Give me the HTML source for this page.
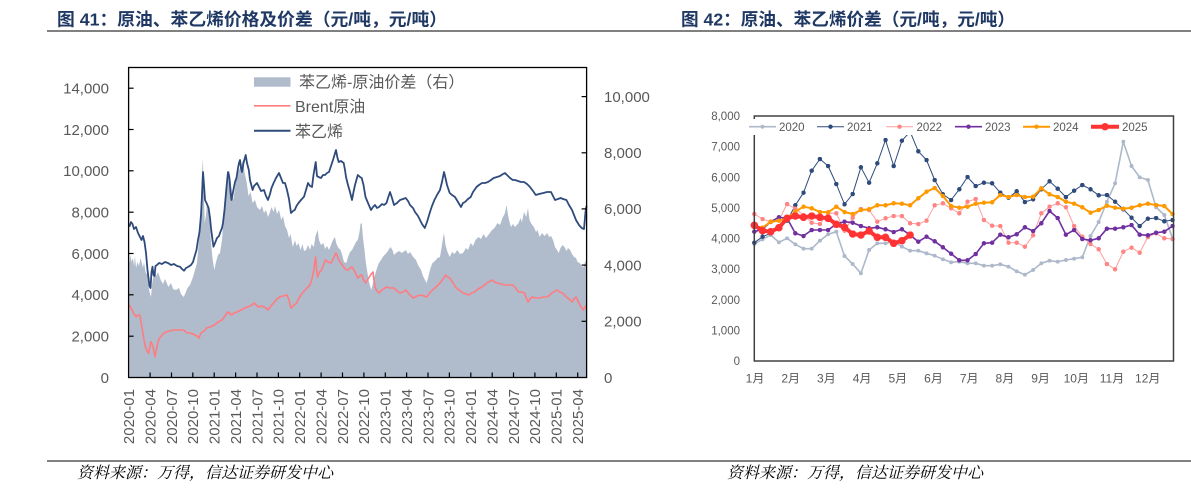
<!DOCTYPE html>
<html><head><meta charset="utf-8">
<style>
html,body{margin:0;padding:0;background:#fff;}
svg{display:block;}
text{font-family:"Liberation Sans","Noto Sans CJK SC",sans-serif;}
.ax{font-size:15px;fill:#595959;}
.ax2{font-size:11.5px;fill:#595959;}
.ttl{font-family:"Liberation Sans","Noto Sans CJK SC",sans-serif;font-weight:bold;font-size:17.5px;fill:#1F3864;}
.src{font-family:"Noto Serif CJK SC","Noto Sans CJK SC",serif;font-style:italic;font-size:16px;fill:#000;}
</style></head>
<body>
<svg width="1191" height="492" viewBox="0 0 1191 492" xmlns="http://www.w3.org/2000/svg">
<defs>
<marker id="m20" viewBox="0 0 10 10" refX="5" refY="5" markerWidth="4" markerHeight="4" markerUnits="userSpaceOnUse"><circle cx="5" cy="5" r="5" fill="#ADB9CA"/></marker>
<marker id="m21" viewBox="0 0 10 10" refX="5" refY="5" markerWidth="4.5" markerHeight="4.5" markerUnits="userSpaceOnUse"><circle cx="5" cy="5" r="5" fill="#2F4B7C"/></marker>
<marker id="m22" viewBox="0 0 10 10" refX="5" refY="5" markerWidth="4.5" markerHeight="4.5" markerUnits="userSpaceOnUse"><circle cx="5" cy="5" r="5" fill="#FF8585"/></marker>
<marker id="m23" viewBox="0 0 10 10" refX="5" refY="5" markerWidth="4.5" markerHeight="4.5" markerUnits="userSpaceOnUse"><circle cx="5" cy="5" r="5" fill="#7030A0"/></marker>
<marker id="m24" viewBox="0 0 10 10" refX="5" refY="5" markerWidth="4.5" markerHeight="4.5" markerUnits="userSpaceOnUse"><circle cx="5" cy="5" r="5" fill="#FF9900"/></marker>
<marker id="m25" viewBox="0 0 10 10" refX="5" refY="5" markerWidth="7.5" markerHeight="7.5" markerUnits="userSpaceOnUse"><circle cx="5" cy="5" r="5" fill="#FF3333"/></marker>
</defs>

<!-- titles -->
<text class="ttl" x="57" y="25.5" textLength="390" lengthAdjust="spacingAndGlyphs">图 41：原油、苯乙烯价格及价差（元/吨，元/吨）</text>
<text class="ttl" x="681" y="25.5" textLength="334" lengthAdjust="spacingAndGlyphs">图 42：原油、苯乙烯价差（元/吨，元/吨）</text>
<line x1="47" y1="31" x2="1191" y2="31" stroke="#000" stroke-width="1"/>

<!-- ============ LEFT CHART ============ -->
<!-- area -->
<polygon fill="#B0BBCC" points="129.4,377.5 129.4,263 130.5,255 131.5,262 133,258 134,266 135,256 136,268 137.5,262 139,266 140.5,258 141.6,262 143,268 144,262 145.5,272 147.3,275 148.5,285 149.5,292 151,297 152,285 153,278 155,270 156.5,276 158,272 160.7,280 163,284 165,279 168.4,287 171,283 173,289 176,290 179,288 181,294 183.7,297 185.5,293 187.5,288 190,285 193,277 195,270 197,263 199,240 200.5,215 201.5,185 202.8,158 203.8,190 204.7,223 206,215 207,203 208.6,210 210,225 211,243 212.5,258 214.3,270 216,262 218,255 220,253 222,240 224,213 225.5,200 226.6,190 228,180 229.6,170 231,185 233.4,200 235,188 236.5,175 239,170 241,166 243,160 244.5,172 246.8,183 248.5,196 250.5,192 252.6,203 255,200 257,207 260,210 262,206 264,213 266,210 268,217 270,212 271.5,207 273.6,212 275,206 277,214 279,210 281.3,220 283,216 285,226 287,230 289,238 290.5,234 292.8,247 295,240 296.5,246 298.5,243 300.5,250 302.5,244 304,251 306,250 308,245 310,250 311.5,244 313.8,247 315.5,236 317.6,230 319,240 321,245 323.4,243 325,249 327,246 329,250 331,245 333,240 334.9,237 336.5,244 338.5,248 340.6,250 342.5,256 344,262 346.3,263 348,257 350,252 352,250 354,246 356,242 357.8,240 359.5,232 360.5,224 361.7,223 363,238 364.5,250 365.5,260 367,270 369,282 371.2,290 373,283 375,275 377,268 378.9,263 381,260 383.5,256 386.5,253 388.5,250 390.4,247 392.5,250 394,255 396,253 399,251 402,253 405.7,250 408,254 410,252 413.3,257 416,260 418,265 421,270 423,276 425,280 426.7,283 428.5,276 430.5,268 432.5,263 435,261 437.5,258 440,257 442,245 443,238 444,233 445.5,245 447.5,252 449.7,257 452,252 454.5,254 457.3,250 460,254 463,253 466,248 468,250 470.7,243 473,246 475.5,240 478.4,237 481,239 483.5,234 486,238 489.9,233 492,230 494.5,228 497.5,223 500,225 502.5,218 505,213 506.5,205 508,215 510,224 511,227 513,224 515,227 518.6,223 520.5,218 522,222 524,212 526.2,217 528,208 529.5,220 531.5,224 533.9,227 536,232 537.5,230 539.6,237 542,233 544.5,236 547.3,233 549,237 551,236 553,240 555,247 557,250 558.7,253 560.5,248 562.5,245 564.5,247 566.5,251 568,248 570.2,250 572,254 574,257 576,258 577.5,262 579.8,263 581.5,266 583.6,267 585,262 586.6,260 586.6,377.5"/>

<!-- Brent -->
<polyline fill="none" stroke="#FF7C80" stroke-width="1.6" stroke-linejoin="round" points="129.4,305 131,308 132,310 134,314 136,316.7 138,315 139.7,315 141,322 142.4,330 144,340 145.4,346.7 147,351 148.5,353.3 150,346 151,341.7 152,344 153,346.7 154,352 155,356.7 156.5,349 157.7,343 159,339 160.7,336.7 163,334 166.5,331.7 170,331 173,330 176,330 180,330 183.7,330 186,332 187.5,333 190,333 193,334 195,335 197,336 199,338 201,333 204,331 206.7,328 210,327 214.3,325 218,322 222,320 225,316 227.7,312 229.5,313 231.5,315 234,313 237,312 241,310 245,308 250,306 254.5,303 256,305 258.3,307 261,306 264,307 266,308 268,310 271,306 273.6,303 276,300 279.4,297 283,296 287,295 289,300 290.9,308 293,306 296.6,303 299,298 302.3,293 306,289 310,285 312,279 313.8,270 314.8,262 315.7,257 316.6,270 317.6,277 319.5,272 321.5,270 323.5,265 325.3,260 328,262 331,263 333.5,258 336,253 337.3,256 338.7,260 341.5,264 344.4,268 346.3,270 348.3,270 350,268 352,267 355,272 357.8,278 359.7,276 361.7,275 363.6,280 365.5,283 367.4,280 369.3,277 371.2,274 373,272 374,280 375,287 377,291 378.9,293 382,290 386.5,287 390,288 394,288 397,291 400,293 403,292 405.7,290 409,294 413.3,298 417,296 421,295 424,296 426.7,297 429.6,293 432.5,290 436,287 440,283 443,279 445.8,275 447.7,277 449.7,278 452.5,282 455.4,287 459,290 463,293 466,294 468.8,295 471.6,293 474.5,292 478,289 482,287 487,283 491.8,280 494.6,282 497.5,283 501,284 505,285 509,285 512.8,285 515.7,288 518.6,292 521.5,292 524.3,293 526,297 528,302 530,299 532,297 535.8,298 539.6,298 543.5,297 547.3,297 552,293 556.8,290 559.7,292 562.6,293 564.5,295 566.4,297 569.2,299 572,302 574,299 576,297 578,301 579.8,305 581.7,308 583.6,310 585,307 586.3,305"/>

<!-- Styrene -->
<polyline fill="none" stroke="#2F4B7C" stroke-width="1.8" stroke-linejoin="round" points="129.4,226.7 131,222 132.5,224 134,229 136,227 138,233 140,237 141.5,240 143,236 144.5,242 146,253 147.5,270 148.5,278 149.5,286 150.5,288 151.5,272 152.5,266.7 153.5,275 154.5,276 155.5,266 157,265 159,263 162,264 165,262 168,263 171,265 174,264 177,266 180,266.7 182,269 184,270.7 186,268 188,267 191,265 193,262 195,255 196.5,250 198,240 199.5,232 201,215 202,195 203,172 204,185 205,200 206.5,203 208.6,208 210,218 211,228 212.5,240 213.5,246.7 215,243 217,238 219,236 220,233 222,228 223,223 224.5,210 226,193 227,182 228,172 229,176 229.6,180 230.5,192 231.5,200 233,192 235,182 236.5,178 238,168 239,163 240,160 241,168 242,172 243.5,163 245.7,155 247,163 248.8,170 250,180 252.6,190 254,186 257,183 259,187 261,191 264,190 266,196 268,200 270,194 271.5,188 273.6,183 276,178 279,173 281,178 283,183 285,183 287,190 289,199 291,213 293,211 294.7,210 296.5,206 298.5,203 301,200 304,196.7 306,190 308,183 310,186 312,187 313.5,175 315.7,162 317,176 318.5,177 321,178 323,175 325,175 327,173 329,172 331,166 333,160 334.5,155 336,150 337.5,158 338.7,162 341,161 343.7,163 345,170 346,177 348,185 350,192 352,200 353.5,192 355,185 357.8,175 360,177 361.7,178 363.5,185 365.5,197 368,203 371,210 373,207 375,205 377,208 379,207 382,204 384,205 386.5,203 388,198 390,192 392,198 394,205 397,203 400,200 403,199 405.7,198 408,201 410,205 413,208 415,212 418,216 420,220 422,224 424.8,228 427,222 430,212 432,206 434.4,200 437,195 440,190 442,182 444,172 445.5,178 447,185 449.7,193 452,195 455,197 458,202 461,207 463,203 465,202 468,199 470.7,197 473,192 476.5,187 479,185 482,183 485,183 488,182 491,180 493.7,178 497,177 500,176 503,174 505,173 508,176 510,178 512.8,180 515,180 518,181 521,182 524,182 527,184 530,187 533,191 535.8,195 539,194 543.4,193 547,192 551,192 553,196 555,200 558,199 560.6,198 563,199 566.4,200 569,205 572,210 574,215 576,220 579,225 581.7,228 584,229 585.5,212 586.5,206"/>

<!-- frame -->
<rect x="128.6" y="67.5" width="458" height="310" fill="none" stroke="#000" stroke-width="1.3"/>
<!-- left ticks -->
<g stroke="#000" stroke-width="1.2">
<line x1="128.6" y1="336.2" x2="133.6" y2="336.2"/><line x1="128.6" y1="294.8" x2="133.6" y2="294.8"/><line x1="128.6" y1="253.5" x2="133.6" y2="253.5"/><line x1="128.6" y1="212.2" x2="133.6" y2="212.2"/><line x1="128.6" y1="170.8" x2="133.6" y2="170.8"/><line x1="128.6" y1="129.5" x2="133.6" y2="129.5"/><line x1="128.6" y1="88.2" x2="133.6" y2="88.2"/>
<line x1="581.6" y1="321.3" x2="586.6" y2="321.3"/><line x1="581.6" y1="265.1" x2="586.6" y2="265.1"/><line x1="581.6" y1="208.9" x2="586.6" y2="208.9"/><line x1="581.6" y1="152.8" x2="586.6" y2="152.8"/><line x1="581.6" y1="96.6" x2="586.6" y2="96.6"/>
<line x1="150.1" y1="372.5" x2="150.1" y2="377.5"/><line x1="171.5" y1="372.5" x2="171.5" y2="377.5"/><line x1="192.8" y1="372.5" x2="192.8" y2="377.5"/><line x1="214.2" y1="372.5" x2="214.2" y2="377.5"/><line x1="235.6" y1="372.5" x2="235.6" y2="377.5"/><line x1="257" y1="372.5" x2="257" y2="377.5"/><line x1="278.4" y1="372.5" x2="278.4" y2="377.5"/><line x1="299.7" y1="372.5" x2="299.7" y2="377.5"/><line x1="321.1" y1="372.5" x2="321.1" y2="377.5"/><line x1="342.5" y1="372.5" x2="342.5" y2="377.5"/><line x1="363.9" y1="372.5" x2="363.9" y2="377.5"/><line x1="385.3" y1="372.5" x2="385.3" y2="377.5"/><line x1="406.6" y1="372.5" x2="406.6" y2="377.5"/><line x1="428" y1="372.5" x2="428" y2="377.5"/><line x1="449.4" y1="372.5" x2="449.4" y2="377.5"/><line x1="470.8" y1="372.5" x2="470.8" y2="377.5"/><line x1="492.2" y1="372.5" x2="492.2" y2="377.5"/><line x1="513.5" y1="372.5" x2="513.5" y2="377.5"/><line x1="534.9" y1="372.5" x2="534.9" y2="377.5"/><line x1="556.3" y1="372.5" x2="556.3" y2="377.5"/><line x1="577.7" y1="372.5" x2="577.7" y2="377.5"/>
</g>
<!-- left y labels -->
<g class="ax" text-anchor="end">
<text x="109" y="382.8">0</text><text x="109" y="341.5">2,000</text><text x="109" y="300.1">4,000</text><text x="109" y="258.8">6,000</text><text x="109" y="217.5">8,000</text><text x="109" y="176.1">10,000</text><text x="109" y="134.8">12,000</text><text x="109" y="93.5">14,000</text>
</g>
<!-- right y labels -->
<g class="ax">
<text x="604" y="382.8">0</text><text x="604" y="326.6">2,000</text><text x="604" y="270.4">4,000</text><text x="604" y="214.2">6,000</text><text x="604" y="158.1">8,000</text><text x="604" y="101.9">10,000</text>
</g>
<!-- x labels -->
<g class="ax" text-anchor="end">
<text transform="translate(134,389) rotate(-90)">2020-01</text>
<text transform="translate(155.4,389) rotate(-90)">2020-04</text>
<text transform="translate(176.8,389) rotate(-90)">2020-07</text>
<text transform="translate(198.1,389) rotate(-90)">2020-10</text>
<text transform="translate(219.5,389) rotate(-90)">2021-01</text>
<text transform="translate(240.9,389) rotate(-90)">2021-04</text>
<text transform="translate(262.3,389) rotate(-90)">2021-07</text>
<text transform="translate(283.7,389) rotate(-90)">2021-10</text>
<text transform="translate(305,389) rotate(-90)">2022-01</text>
<text transform="translate(326.4,389) rotate(-90)">2022-04</text>
<text transform="translate(347.8,389) rotate(-90)">2022-07</text>
<text transform="translate(369.2,389) rotate(-90)">2022-10</text>
<text transform="translate(390.6,389) rotate(-90)">2023-01</text>
<text transform="translate(411.9,389) rotate(-90)">2023-04</text>
<text transform="translate(433.3,389) rotate(-90)">2023-07</text>
<text transform="translate(454.7,389) rotate(-90)">2023-10</text>
<text transform="translate(476.1,389) rotate(-90)">2024-01</text>
<text transform="translate(497.5,389) rotate(-90)">2024-04</text>
<text transform="translate(518.8,389) rotate(-90)">2024-07</text>
<text transform="translate(540.2,389) rotate(-90)">2024-10</text>
<text transform="translate(561.6,389) rotate(-90)">2025-01</text>
<text transform="translate(583,389) rotate(-90)">2025-04</text>
</g>
<!-- left legend -->
<rect x="254" y="77.3" width="36.5" height="9.4" fill="#B0BBCC"/>
<text x="299" y="87.5" style="font-size:16px;fill:#595959;">苯乙烯-原油价差（右）</text>
<line x1="254" y1="105.8" x2="290.5" y2="105.8" stroke="#FF7C80" stroke-width="1.6"/>
<text x="295" y="112" style="font-size:16px;fill:#595959;">Brent原油</text>
<line x1="254" y1="130.7" x2="290.5" y2="130.7" stroke="#2F4B7C" stroke-width="2"/>
<text x="295" y="137" style="font-size:16px;fill:#595959;">苯乙烯</text>

<!-- ============ RIGHT CHART ============ -->
<g class="ax2" text-anchor="end">
<text x="740" y="365.1">0</text><text x="740" y="334.5">1,000</text><text x="740" y="303.9">2,000</text><text x="740" y="273.2">3,000</text><text x="740" y="242.6">4,000</text><text x="740" y="212">5,000</text><text x="740" y="181.4">6,000</text><text x="740" y="150.7">7,000</text><text x="740" y="120.1">8,000</text>
</g>
<g text-anchor="middle" style="font-size:12px;fill:#595959;">
<text x="755" y="382.5">1月</text><text x="790.7" y="382.5">2月</text><text x="826.4" y="382.5">3月</text><text x="862.1" y="382.5">4月</text><text x="897.8" y="382.5">5月</text><text x="933.5" y="382.5">6月</text><text x="969.2" y="382.5">7月</text><text x="1004.9" y="382.5">8月</text><text x="1040.6" y="382.5">9月</text><text x="1076.3" y="382.5">10月</text><text x="1112" y="382.5">11月</text><text x="1147.7" y="382.5">12月</text>
</g>

<polyline fill="none" stroke="#ADB9CA" stroke-width="1.6" stroke-linejoin="round" marker-start="url(#m20)" marker-mid="url(#m20)" marker-end="url(#m20)" points="754.3,244 762.5,239.3 770.7,235 778.9,242.3 787.1,238.3 795.3,244.3 803.5,248.7 811.7,248.7 819.9,240.7 828.1,234.3 836.3,231.7 844.5,256 852.7,264 860.9,273.3 869.1,250 877.3,243.3 885.5,243.3 893.7,241.7 901.9,246.7 910.1,250.7 918.3,250.7 926.5,253.3 934.7,255.7 942.9,259.3 951.1,262.3 959.3,261.7 967.5,263.3 975.7,263.3 983.9,265.7 992.1,265.7 1000.3,264.3 1008.5,266.7 1016.7,271.3 1024.9,274.7 1033.1,270 1041.3,263.3 1049.5,260.7 1057.7,261.7 1065.9,260 1074.1,258.7 1082.3,257.3 1090.5,236 1098.7,222 1106.9,201.7 1115.1,183.3 1123.3,141.7 1131.5,166 1139.7,177.3 1147.9,180 1156.1,207.3 1164.3,215 1172.5,238.3"/>

<polyline fill="none" stroke="#2F4B7C" stroke-width="1" stroke-linejoin="round" marker-start="url(#m21)" marker-mid="url(#m21)" marker-end="url(#m21)" points="754.3,242.7 762.5,236.7 770.7,233.3 778.9,228.3 787.1,220.7 795.3,205.3 803.5,192.7 811.7,170.7 819.9,159 828.1,166 836.3,184 844.5,204.3 852.7,194 860.9,167.3 869.1,182.7 877.3,163.3 885.5,140 893.7,166 901.9,140.7 910.1,131.7 918.3,151.3 926.5,160 934.7,180 942.9,194.3 951.1,200 959.3,189.3 967.5,177 975.7,186 983.9,182.7 992.1,183.3 1000.3,192.7 1008.5,197.7 1016.7,191.3 1024.9,202 1033.1,199.3 1041.3,189.3 1049.5,181.3 1057.7,188.7 1065.9,197 1074.1,190.7 1082.3,185 1090.5,189.3 1098.7,195.3 1106.9,195 1115.1,201.7 1123.3,209.3 1131.5,217.7 1139.7,226 1147.9,218.7 1156.1,218 1164.3,221.3 1172.5,220"/>

<polyline fill="none" stroke="#FF9E9E" stroke-width="1" stroke-linejoin="round" marker-start="url(#m22)" marker-mid="url(#m22)" marker-end="url(#m22)" points="754.3,214 762.5,219 770.7,222 778.9,220 787.1,204 795.3,208.7 803.5,215 811.7,222.7 819.9,224 828.1,213.3 836.3,213.3 844.5,230.7 852.7,217.7 860.9,209 869.1,210 877.3,221.7 885.5,218.3 893.7,216 901.9,216 910.1,223.3 918.3,224 926.5,220.7 934.7,205.3 942.9,203.3 951.1,208.3 959.3,213.3 967.5,201.7 975.7,199 983.9,220 992.1,225.7 1000.3,226 1008.5,242.7 1016.7,242.7 1024.9,246.7 1033.1,235.3 1041.3,213.3 1049.5,206.7 1057.7,203.3 1065.9,207.3 1074.1,226 1082.3,236.7 1090.5,244 1098.7,249.3 1106.9,264 1115.1,269.3 1123.3,251.7 1131.5,247.7 1139.7,252.7 1147.9,237 1156.1,233.3 1164.3,238.3 1172.5,239"/>

<polyline fill="none" stroke="#7030A0" stroke-width="1.6" stroke-linejoin="round" marker-start="url(#m23)" marker-mid="url(#m23)" marker-end="url(#m23)" points="754.3,231.7 762.5,229.3 770.7,221.7 778.9,217.3 787.1,218.3 795.3,233.3 803.5,236 811.7,230 819.9,230 828.1,230 836.3,224 844.5,221.7 852.7,222.7 860.9,226 869.1,228.3 877.3,227.3 885.5,229.3 893.7,232 901.9,229.3 910.1,235 918.3,241.7 926.5,236.7 934.7,241.3 942.9,247.3 951.1,253.7 959.3,260.3 967.5,260.3 975.7,254 983.9,243.3 992.1,242.7 1000.3,234.7 1008.5,237.3 1016.7,234.3 1024.9,227.3 1033.1,231 1041.3,223.3 1049.5,211 1057.7,218 1065.9,234.7 1074.1,230 1082.3,239 1090.5,240.3 1098.7,238.3 1106.9,228.7 1115.1,228.7 1123.3,227.3 1131.5,225 1139.7,234.7 1147.9,235.3 1156.1,232.7 1164.3,231.7 1172.5,226"/>

<polyline fill="none" stroke="#FF9900" stroke-width="2" stroke-linejoin="round" marker-start="url(#m24)" marker-mid="url(#m24)" marker-end="url(#m24)" points="754.3,226 762.5,227.7 770.7,221.7 778.9,220.7 787.1,218.3 795.3,211.7 803.5,206.7 811.7,208.3 819.9,212 828.1,212.3 836.3,206.7 844.5,212 852.7,214 860.9,210 869.1,209.3 877.3,205.3 885.5,205.3 893.7,203.3 901.9,203.7 910.1,205.3 918.3,198.3 926.5,191.7 934.7,188 942.9,196 951.1,206 959.3,207.7 967.5,206.7 975.7,203.7 983.9,202.7 992.1,202.3 1000.3,195 1008.5,197 1016.7,195 1024.9,197 1033.1,196.7 1041.3,188.3 1049.5,194.3 1057.7,197 1065.9,201.7 1074.1,203.7 1082.3,207.3 1090.5,212.7 1098.7,210 1106.9,205.7 1115.1,207.7 1123.3,208.7 1131.5,207.7 1139.7,205.3 1147.9,203.7 1156.1,205 1164.3,206 1172.5,214"/>

<polyline fill="none" stroke="#FF3333" stroke-width="4" stroke-linejoin="round" marker-start="url(#m25)" marker-mid="url(#m25)" marker-end="url(#m25)" points="754.3,225.3 762.5,230.7 770.7,231.7 778.9,227.7 787.1,218.3 795.3,216 803.5,217.3 811.7,216 819.9,217.3 828.1,218.3 836.3,224.3 844.5,227.3 852.7,234 860.9,235 869.1,231 877.3,237.3 885.5,237.3 893.7,243.3 901.9,240.7 910.1,235"/>

<rect x="754.3" y="116" width="419.2" height="245" fill="none" stroke="#404040" stroke-width="1.5"/>

<!-- right legend -->
<rect x="746" y="119" width="410" height="16" fill="#fff"/>
<g style="font-size:11.5px;fill:#595959;">
<line x1="749" y1="126.7" x2="776" y2="126.7" stroke="#ADB9CA" stroke-width="1.6"/><circle cx="762.5" cy="126.7" r="2" fill="#ADB9CA"/><text x="779" y="130.8">2020</text>
<line x1="817" y1="126.7" x2="844" y2="126.7" stroke="#2F4B7C" stroke-width="1"/><circle cx="830.5" cy="126.7" r="2.2" fill="#2F4B7C"/><text x="847" y="130.8">2021</text>
<line x1="886" y1="126.7" x2="913" y2="126.7" stroke="#FF9E9E" stroke-width="1"/><circle cx="899.5" cy="126.7" r="2.2" fill="#FF8585"/><text x="916.5" y="130.8">2022</text>
<line x1="955" y1="126.7" x2="982" y2="126.7" stroke="#7030A0" stroke-width="1.6"/><circle cx="968.5" cy="126.7" r="2.2" fill="#7030A0"/><text x="985" y="130.8">2023</text>
<line x1="1023" y1="126.7" x2="1050" y2="126.7" stroke="#FF9900" stroke-width="2"/><circle cx="1036.5" cy="126.7" r="2.2" fill="#FF9900"/><text x="1053" y="130.8">2024</text>
<line x1="1091" y1="126.7" x2="1119" y2="126.7" stroke="#FF3333" stroke-width="4"/><circle cx="1105" cy="126.7" r="3.7" fill="#FF3333"/><text x="1122" y="130.8">2025</text>
</g>

<!-- footer -->
<line x1="47" y1="461" x2="1191" y2="461" stroke="#000" stroke-width="1"/>
<text class="src" x="77" y="478">资料来源：万得，信达证券研发中心</text>
<text class="src" x="727" y="478">资料来源：万得，信达证券研发中心</text>
</svg>
</body></html>
